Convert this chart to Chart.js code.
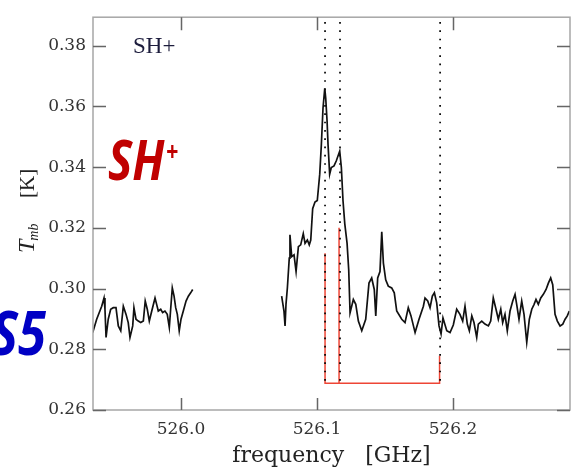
<!DOCTYPE html>
<html>
<head>
<meta charset="utf-8">
<script src="https://cdn.jsdelivr.net/npm/chart.js@4/dist/chart.umd.min.js"></script>
<style>
  html, body { margin: 0; padding: 0; background: #fff; }
  canvas { display: block; }
</style>
</head>
<body>
<canvas id="c" width="572" height="467"></canvas>
<script>
// SH+ spectrum around 526.1 GHz (main-beam temperature, K)
const freqLeft = [
  525.9351, 525.9380, 525.9417, 525.9434, 525.9441, 525.9449, 525.9465, 525.9483,
  525.9502, 525.9522, 525.9539, 525.9557, 525.9576, 525.9596, 525.9612, 525.9625,
  525.9645, 525.9654, 525.9669, 525.9686, 525.9704, 525.9723, 525.9737, 525.9752,
  525.9767, 525.9785, 525.9809, 525.9821, 525.9833, 525.9851, 525.9865, 525.9882,
  525.9899, 525.9914, 525.9924, 525.9936, 525.9949, 525.9961, 525.9973, 525.9987,
  526.0000, 526.0017, 526.0037, 526.0054, 526.0071, 526.0086
];
const tmbLeft = [
  0.2855, 0.2899, 0.2942, 0.2969, 0.2932, 0.2839, 0.2899, 0.2932,
  0.2937, 0.2937, 0.2877, 0.2861, 0.2942, 0.2915, 0.2888, 0.2839,
  0.2877, 0.2937, 0.2899, 0.2893, 0.2888, 0.2893, 0.2959, 0.2932,
  0.2893, 0.2926, 0.2969, 0.2948, 0.2926, 0.2932, 0.2921, 0.2926,
  0.2915, 0.2872, 0.2932, 0.3002, 0.2975, 0.2937, 0.2915, 0.2861,
  0.2899, 0.2926, 0.2959, 0.2975, 0.2986, 0.2997
];
const freqRight = [
  526.0740, 526.0757, 526.0765, 526.0772, 526.0782, 526.0796, 526.0801, 526.0814,
  526.0831, 526.0846, 526.0863, 526.0880, 526.0899, 526.0912, 526.0929, 526.0943,
  526.0954, 526.0968, 526.0985, 526.1002, 526.1020, 526.1032, 526.1044, 526.1057,
  526.1064, 526.1074, 526.1081, 526.1093, 526.1105, 526.1125, 526.1142, 526.1167,
  526.1179, 526.1191, 526.1204, 526.1221, 526.1233, 526.1243, 526.1267, 526.1285,
  526.1304, 526.1329, 526.1358, 526.1382, 526.1402, 526.1421, 526.1432, 526.1446,
  526.1463, 526.1476, 526.1488, 526.1505, 526.1524, 526.1549, 526.1568, 526.1586,
  526.1623, 526.1647, 526.1671, 526.1691, 526.1721, 526.1750, 526.1782, 526.1794,
  526.1814, 526.1831, 526.1848, 526.1863, 526.1880, 526.1897, 526.1912, 526.1926,
  526.1954, 526.1978, 526.2002, 526.2027, 526.2051, 526.2071, 526.2088, 526.2105,
  526.2120, 526.2138, 526.2154, 526.2174, 526.2186, 526.2211, 526.2235, 526.2260,
  526.2277, 526.2296, 526.2316, 526.2333, 526.2351, 526.2365, 526.2382, 526.2399,
  526.2419, 526.2439, 526.2456, 526.2468, 526.2485, 526.2505, 526.2522, 526.2542,
  526.2561, 526.2579, 526.2596, 526.2610, 526.2627, 526.2645, 526.2664, 526.2684,
  526.2701, 526.2718, 526.2733, 526.2750, 526.2767, 526.2787, 526.2807, 526.2824,
  526.2840, 526.2855
];
const tmbRight = [
  0.2975, 0.2926, 0.2877, 0.2949, 0.3002, 0.3100, 0.3177, 0.3105,
  0.3111, 0.3056, 0.3138, 0.3144, 0.3181, 0.3149, 0.3160, 0.3144,
  0.3160, 0.3263, 0.3285, 0.3290, 0.3377, 0.3475, 0.3594, 0.3660,
  0.3627, 0.3551, 0.3475, 0.3377, 0.3399, 0.3404, 0.3421, 0.3453,
  0.3399, 0.3290, 0.3214, 0.3149, 0.3062, 0.2920, 0.2964, 0.2948,
  0.2893, 0.2861, 0.2899, 0.3018, 0.3035, 0.2997, 0.2910, 0.3035,
  0.3056, 0.3187, 0.3084, 0.3029, 0.3008, 0.3002, 0.2986, 0.2926,
  0.2899, 0.2888, 0.2937, 0.2910, 0.2855, 0.2899, 0.2942, 0.2969,
  0.2959, 0.2937, 0.2975, 0.2986, 0.2953, 0.2877, 0.2851, 0.2903,
  0.2861, 0.2855, 0.2880, 0.2932, 0.2915, 0.2893, 0.2942, 0.2883,
  0.2861, 0.2910, 0.2888, 0.2839, 0.2883, 0.2893, 0.2883, 0.2877,
  0.2893, 0.2969, 0.2932, 0.2899, 0.2932, 0.2888, 0.2915, 0.2861,
  0.2926, 0.2959, 0.2981, 0.2948, 0.2899, 0.2959, 0.2915, 0.2823,
  0.2899, 0.2932, 0.2948, 0.2964, 0.2948, 0.2969, 0.2981, 0.2997,
  0.3018, 0.3035, 0.3013, 0.2915, 0.2893, 0.2877, 0.2883, 0.2899,
  0.2910, 0.2926
];

// hyperfine components: rest frequencies (dotted guides) and relative strengths (red sticks)
const guideFreq = [526.1059, 526.1169, 526.1905];
const stickFreq = [526.1059, 526.1162, 526.1901];
const stickTop = [0.3116, 0.3200, 0.2779];
const stickBase = 0.2688;
const guideTop = 0.3878;

// axis range and tick labels
const xMin = 525.9353, xMax = 526.2860;
const yMin = 0.26, yMax = 0.3894;
const xTickValues = [526.0, 526.1, 526.2];
const yTickValues = [0.26, 0.28, 0.30, 0.32, 0.34, 0.36, 0.38];

const pts = (xs, ys) => xs.map((x, i) => ({ x, y: ys[i] }));
const spectrumStyle = { borderColor: '#111', borderWidth: 1.7, showLine: true, pointRadius: 0, fill: false };
const stickStyle = { borderColor: '#ee4535', borderWidth: 1.5, showLine: true, pointRadius: 0, fill: false };

const datasets = [
  { data: pts(freqLeft, tmbLeft), ...spectrumStyle },
  { data: pts(freqRight, tmbRight), ...spectrumStyle },
  ...guideFreq.map(f => ({
    data: [{ x: f, y: guideTop }, { x: f, y: stickBase }],
    borderColor: '#000', borderWidth: 1.7, borderDash: [1.7, 6.6], borderCapStyle: 'butt',
    showLine: true, pointRadius: 0, fill: false
  })),
  { data: [
      { x: stickFreq[0], y: stickTop[0] }, { x: stickFreq[0], y: stickBase },
      { x: stickFreq[2], y: stickBase }, { x: stickFreq[2], y: stickTop[2] }
    ], ...stickStyle },
  { data: [{ x: stickFreq[1], y: stickBase }, { x: stickFreq[1], y: stickTop[1] }], ...stickStyle }
];

// frame with inward ticks on all four sides, plus annotations and axis titles
const framePlugin = {
  id: 'frame',
  afterDatasetsDraw(chart) {
    const { ctx, chartArea: a, scales: { x, y } } = chart;
    ctx.save();
    ctx.strokeStyle = '#a6a6a6';
    ctx.lineWidth = 1.5;
    ctx.strokeRect(a.left, a.top, a.right - a.left, a.bottom - a.top);
    ctx.strokeStyle = '#666';
    ctx.lineWidth = 1.5;
    ctx.beginPath();
    xTickValues.forEach(v => {
      const px = Math.round(x.getPixelForValue(v)) + 0.5;
      ctx.moveTo(px, a.bottom); ctx.lineTo(px, a.bottom - 12);
      ctx.moveTo(px, a.top); ctx.lineTo(px, a.top + 13);
    });
    yTickValues.forEach(v => {
      const py = Math.round(y.getPixelForValue(v)) + 0.5;
      ctx.moveTo(a.left, py); ctx.lineTo(a.left + 13, py);
      ctx.moveTo(a.right, py); ctx.lineTo(a.right - 13, py);
    });
    ctx.stroke();
    ctx.restore();
  },
  afterDraw(chart) {
    const { ctx, chartArea: a } = chart;
    ctx.save();
    ctx.textBaseline = 'alphabetic';

    // species label inside the panel
    ctx.fillStyle = '#1c1c3c';
    ctx.font = '23px "Liberation Serif"';
    ctx.textAlign = 'left';
    ctx.fillText('SH+', a.left + 40, 53);

    // red SH+ tag
    ctx.fillStyle = '#c00000';
    ctx.save();
    ctx.translate(108, 180);
    ctx.scale(0.82, 1);
    ctx.font = 'italic bold 56px "Open Sans"';
    ctx.fillText('SH', 0, 0);
    const w = ctx.measureText('SH').width;
    ctx.font = 'italic bold 26px "Open Sans"';
    ctx.fillText('+', w + 2, -19);
    ctx.restore();

    // blue source tag
    ctx.fillStyle = '#0000c4';
    ctx.save();
    ctx.translate(-9, 355);
    ctx.scale(0.85, 1);
    ctx.font = 'italic bold 60px "Open Sans"';
    ctx.fillText('S5', 0, 0);
    ctx.restore();

    // x axis title
    ctx.fillStyle = '#222';
    ctx.font = '22px "DejaVu Serif"';
    ctx.textAlign = 'center';
    ctx.fillText('frequency   [GHz]', (a.left + a.right) / 2, 462);

    // y axis title: T_mb [K], rotated
    ctx.save();
    ctx.translate(34, 253);
    ctx.rotate(-Math.PI / 2);
    ctx.textAlign = 'left';
    ctx.font = 'italic 24px "Liberation Serif"';
    ctx.fillText('T', 0, 0);
    const tw = ctx.measureText('T').width;
    ctx.font = 'italic 14px "Liberation Serif"';
    ctx.fillText('mb', tw - 1, 4);
    ctx.font = '21px "Liberation Serif"';
    ctx.fillText('[K]', 55, 0);
    ctx.restore();

    ctx.restore();
  }
};

new Chart(document.getElementById('c'), {
  type: 'scatter',
  data: { datasets },
  options: {
    responsive: false,
    animation: false,
    devicePixelRatio: 1,
    layout: { padding: { top: 13, right: 2, left: 0, bottom: 0 } },
    plugins: { legend: { display: false }, tooltip: { enabled: false } },
    elements: { point: { radius: 0 }, line: { tension: 0 } },
    scales: {
      x: {
        type: 'linear', min: xMin, max: xMax,
        grid: { display: false, drawTicks: false, tickLength: 0 },
        border: { display: false },
        afterBuildTicks: s => { s.ticks = xTickValues.map(v => ({ value: v })); },
        afterFit: s => { s.height = 57; },
        ticks: {
          padding: 9, color: '#333', maxRotation: 0, autoSkip: false,
          font: { family: 'DejaVu Serif', size: 17 },
          callback: v => Number(v).toFixed(1)
        }
      },
      y: {
        type: 'linear', min: yMin, max: yMax,
        grid: { display: false, drawTicks: false, tickLength: 0 },
        border: { display: false },
        afterBuildTicks: s => { s.ticks = yTickValues.map(v => ({ value: v })); },
        afterFit: s => { s.width = 93; },
        ticks: {
          padding: 7, color: '#333', autoSkip: false,
          font: { family: 'DejaVu Serif', size: 17 },
          callback: v => Number(v).toFixed(2)
        }
      }
    }
  },
  plugins: [framePlugin]
});
</script>
</body>
</html>
